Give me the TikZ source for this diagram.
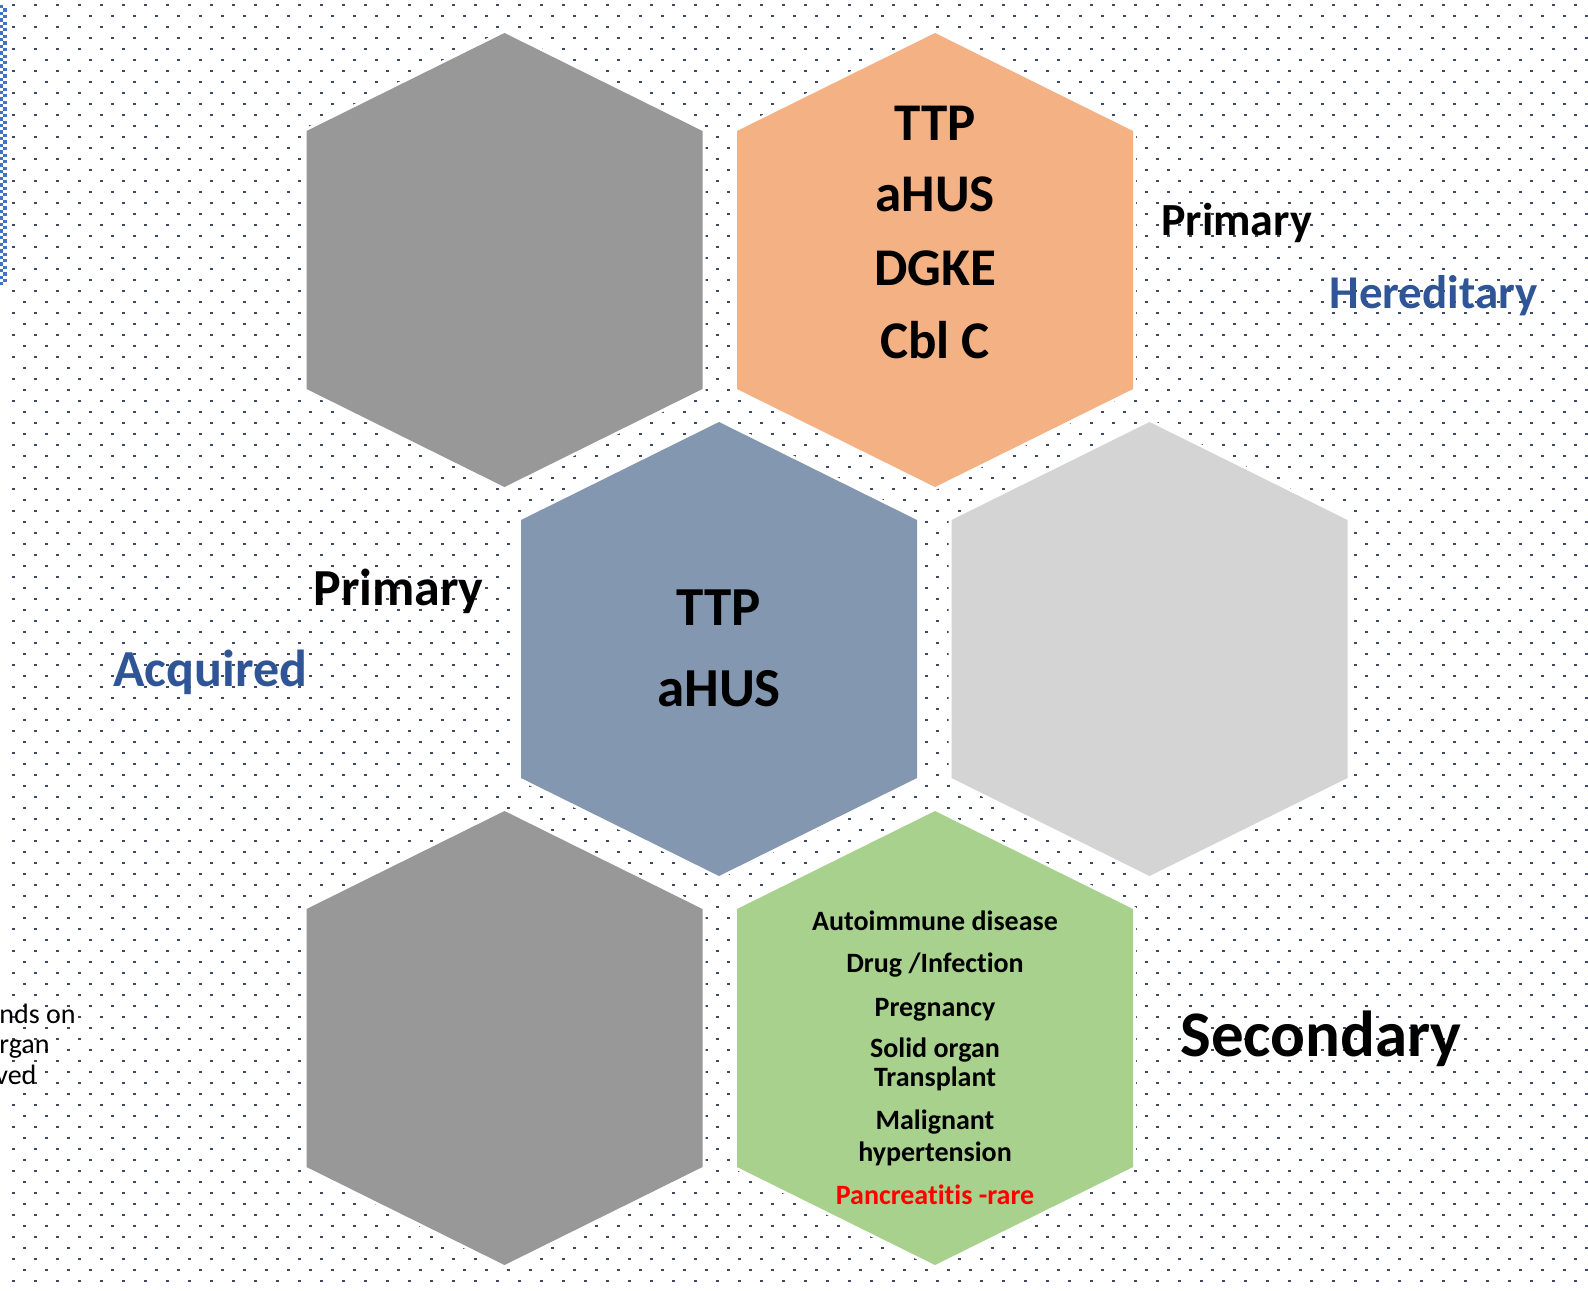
\documentclass[tikz,border=0pt]{standalone}
\usepackage{fontspec}
\setmainfont{Carlito}[Ligatures=NoCommon]

\definecolor{dotc}{RGB}{62,74,96}
\definecolor{hexgray}{RGB}{152,152,152}
\definecolor{hexorange}{RGB}{244,177,131}
\definecolor{hexblue}{RGB}{132,151,176}
\definecolor{hexlight}{RGB}{212,212,212}
\definecolor{hexgreen}{RGB}{169,209,142}
\definecolor{headblue}{RGB}{47,85,151}
\definecolor{selblue}{RGB}{68,114,196}

\begin{document}
\begin{tikzpicture}[x=0.5pt,y=-0.5pt,
		hexcell/.style={preaction={draw=white,line width=3pt,line join=miter}},
		cellbig/.style={inner sep=0pt,anchor=base,font=\fontsize{26.5}{30}\selectfont\bfseries},
		cellmid/.style={inner sep=0pt,anchor=base,font=\fontsize{27.5}{31}\selectfont\bfseries},
		cellsmall/.style={inner sep=0pt,anchor=base,font=\fontsize{14}{16}\selectfont\bfseries},
		sidelabel/.style={inner sep=0pt,anchor=base west,font=\fontsize{#1}{#1}\selectfont\bfseries},
		cutlabel/.style={inner sep=0pt,anchor=base west,font=\fontsize{14}{16}\selectfont}]

		\useasboundingbox (0,0) rectangle (1588,1290);
		\fill[white] (0,0) rectangle (1588,1290);

		% dotted paper
		\foreach \r [evaluate=\r as \yy using {5+11*\r},
			evaluate=\r as \xo using {13.3+11*mod(\r,2)}] in {0,...,117}
			\foreach \c in {0,...,71}
				\fill[dotc] ({\xo+22*\c-1.3},{\yy-1.3}) rectangle ++(2.6,2.6);

		% checkered strip on the left edge
		\draw[selblue,line width=1.65pt,dash pattern=on 1.65pt off 1.65pt] (1.7,5) -- (1.7,285);
		\draw[selblue,line width=1.65pt,dash pattern=on 1.65pt off 1.65pt,dash phase=1.65pt] (5,5) -- (5,285);

		% the six cells
		\foreach \cx/\cy/\col in {504.5/260/hexgray, 935/260/hexorange,
			719/649/hexblue, 1149.5/649/hexlight,
			504.5/1038/hexgray, 935/1038/hexgreen}
			\fill[hexcell,fill=\col] (\cx,\cy) ++(0,-227) -- ++(198,98) -- ++(0,258)
				-- ++(-198,98) -- ++(-198,-98) -- ++(0,-258) -- cycle;

		% hereditary primary
		\node[cellbig] (ttpH) at (935,140) {TTP};
		\node[cellbig] (ahusH) at (935,211) {aHUS};
		\node[cellbig] (dgke) at (935,285.5) {DGKE};
		\node[cellbig] (cblc) at (935,358.5) {Cbl C};
		\node[sidelabel=23] (primaryH) at (1161,235) {Primary};
		\node[sidelabel=23.5,text=headblue] (hereditary) at (1329,308) {Hereditary};

		% acquired primary
		\node[cellmid] (ttpA) at (719,625) {TTP};
		\node[cellmid] (ahusA) at (719,706) {aHUS};
		\node[sidelabel=26] (primaryA) at (313,605) {Primary};
		\node[sidelabel=26,text=headblue] (acquired) at (113,686) {Acquired};

		% secondary
		\node[cellsmall] (autoimmune) at (935,930) {Autoimmune disease};
		\node[cellsmall] (druginf) at (935,972.7) {Drug /Infection};
		\node[cellsmall] (pregnancy) at (935,1016) {Pregnancy};
		\node[cellsmall] (solidorgan) at (935,1057.3) {Solid organ};
		\node[cellsmall] (transplant) at (935,1086) {Transplant};
		\node[cellsmall] (malignant) at (935,1129.3) {Malignant};
		\node[cellsmall] (hypertension) at (935,1161) {hypertension};
		\node[cellsmall,text=red] (pancreatitis) at (935,1204) {Pancreatitis -rare};
		\node[sidelabel=32.5] (secondary) at (1180,1056) {Secondary};

		% cut-off note at the left edge
		\node[cutlabel] (noteA) at (-1,1023) {nds on};
		\node[cutlabel] (noteB) at (-1,1053.5) {rgan};
		\node[cutlabel] (noteC) at (-5,1084) {ved};

	\end{tikzpicture}
\end{document}
